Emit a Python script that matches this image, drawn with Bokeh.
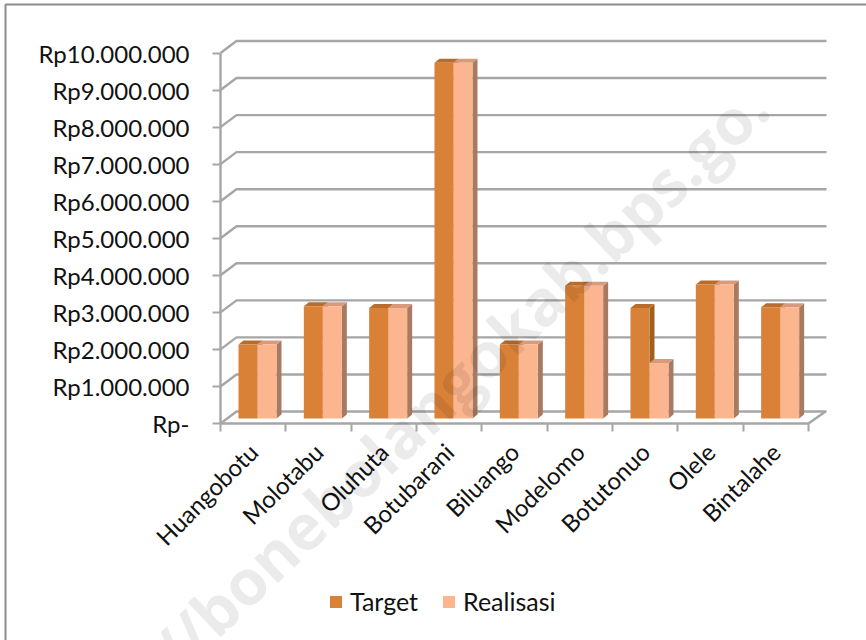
from bokeh.plotting import figure
from bokeh.embed import file_html
from bokeh.resources import INLINE
from bokeh.models import (FixedTicker, LinearAxis, Range1d, Legend, LegendItem, Label)

categories = ["Huangobotu", "Molotabu", "Oluhuta", "Botubarani", "Biluango",
              "Modelomo", "Botutonuo", "Olele", "Bintalahe"]
target = [2000000, 3030000, 2980000, 9600000, 2000000, 3580000, 2980000, 3620000, 3000000]
realisasi = [2000000, 3030000, 2980000, 9600000, 2000000, 3580000, 1500000, 3620000, 3000000]
y_ticks = [0, 1000000, 2000000, 3000000, 4000000, 5000000, 6000000, 7000000, 8000000, 9000000, 10000000]
y_labels = ["Rp-", "Rp1.000.000", "Rp2.000.000", "Rp3.000.000", "Rp4.000.000", "Rp5.000.000",
            "Rp6.000.000", "Rp7.000.000", "Rp8.000.000", "Rp9.000.000", "Rp10.000.000"]

FONT = "Lato"
GREY = "#a6a6a6"
W, H = 866, 640
X0, Y0 = 220, 423                           # page pixel of the axes' origin
PX_CAT = 65.33                              # pixels per category
PX_VAL = 37.05 / 1e6                        # pixels per rupiah
px_x = lambda d: d / PX_CAT                 # pixels -> x data
px_y = lambda d: d / PX_VAL                 # pixels -> y data

p = figure(width=W, height=H, output_backend="svg", toolbar_location=None,
           x_axis_type=None, y_axis_type=None,
           x_range=Range1d(px_x(-X0), px_x(W - X0)), y_range=Range1d(px_y(Y0 - H), px_y(Y0)),
           min_border_left=0, min_border_right=0, min_border_top=0, min_border_bottom=0,
           outline_line_color=None, background_fill_color=None,
           styles={"position": "absolute", "left": "0px", "top": "0px"})
p.xgrid.visible = False
p.ygrid.visible = False

# outer frame: only its left and top edges fall inside the picture
p.line([px_x(5 - X0), px_x(5 - X0), px_x(W - X0)], [px_y(Y0 - H), px_y(Y0 - 4), px_y(Y0 - 4)],
       line_color="#8c8c8c", line_width=2)

# walls
wall_dx, wall_dy = px_x(16), px_y(12)
n = len(categories)
p.multi_line([[0, wall_dx, px_x(606)] for v in y_ticks],
             [[v, v + wall_dy, v + wall_dy] for v in y_ticks],
             line_color=GREY, line_width=2.4)
p.line([n, n + px_x(17)], [0, wall_dy], line_color=GREY, line_width=2.4)

# bars
bar_x0, bar_w = px_x(18), px_x(19)
base = px_y(5)
dx, dy = px_x(5), px_y(4)


def bar(vals, off, front, top, side):
    l = [i + bar_x0 + off * bar_w for i in range(n)]
    r = [a + bar_w for a in l]
    tops = [v + base for v in vals]
    lo = [base] * n
    p.patches([[b, b + dx, b + dx, b] for b in r],
              [[a, a + dy, t + dy, t] for a, t in zip(lo, tops)], fill_color=side, line_color=None)
    p.patches([[a, a + dx, b + dx, b] for a, b in zip(l, r)],
              [[t, t + dy, t + dy, t] for t in tops], fill_color=top, line_color=None)
    return p.quad(left=l, right=r, bottom=lo, top=tops, fill_color=front, line_color=None)


r1 = bar(target, 0, "#da8138", "#b96d2c", "#a0601f")
r2 = bar(realisasi, 1, "#fbb58f", "#d99a7c", "#a87a62")

# axes
yax = LinearAxis(ticker=FixedTicker(ticks=y_ticks), major_label_overrides=dict(zip(y_ticks, y_labels)),
                 fixed_location=0, bounds=(0, 10000000),
                 axis_line_color=GREY, axis_line_width=2.4, major_tick_line_color=GREY, major_tick_line_width=2,
                 major_tick_in=0, major_tick_out=8, minor_tick_line_color=None,
                 major_label_text_font=FONT, major_label_text_font_size="24px",
                 major_label_text_color="#111111", major_label_standoff=23)
p.add_layout(yax, "left")
centres = [i + 0.5 for i in range(n)]
xax = LinearAxis(ticker=FixedTicker(ticks=centres, minor_ticks=list(range(n + 1))),
                 major_label_overrides=dict(zip(centres, categories)),
                 fixed_location=0, bounds=(0, n),
                 axis_line_color=GREY, axis_line_width=2.4, major_tick_line_color=None,
                 major_tick_in=0, major_tick_out=0, minor_tick_line_color=GREY, minor_tick_line_width=2,
                 minor_tick_in=0, minor_tick_out=8, major_label_orientation=0.785,
                 major_label_text_font=FONT, major_label_text_font_size="24px",
                 major_label_text_color="#111111", major_label_standoff=16)
p.add_layout(xax, "below")

legend = Legend(items=[LegendItem(label="Target", renderers=[r1]), LegendItem(label="Realisasi", renderers=[r2])],
                orientation="horizontal", location=(328, 24), border_line_color=None,
                background_fill_alpha=0, glyph_width=15, glyph_height=15, label_text_font=FONT,
                label_text_font_size="25px", label_text_color="#111111", spacing=23, padding=0, margin=0,
                label_standoff=7)
p.add_layout(legend, "center")

# watermark
p.add_layout(Label(x=191, y=-49, x_units="screen", y_units="screen", text="//bonebolangokab.bps.go.",
                   angle=0.758, text_font="Open Sans", text_font_style="bold", text_font_size="63px",
                   text_color="#000000", text_alpha=0.08))

open("out.html", "w").write(file_html(p, INLINE))
